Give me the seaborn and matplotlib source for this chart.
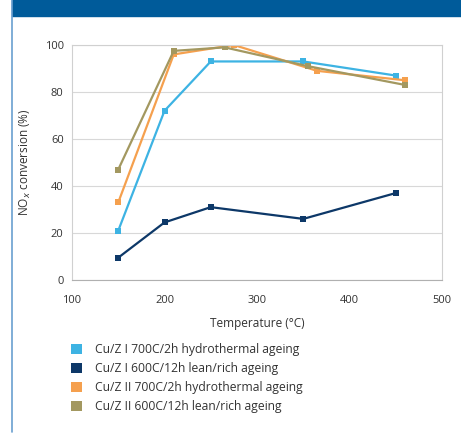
import pandas as pd
import seaborn as sns
import matplotlib.pyplot as plt
from matplotlib.patches import Patch, Rectangle
from matplotlib.lines import Line2D

# --- DATOS ---
series_names = [
    "Cu/Z I 700C/2h hydrothermal ageing",
    "Cu/Z I 600C/12h lean/rich ageing",
    "Cu/Z II 700C/2h hydrothermal ageing",
    "Cu/Z II 600C/12h lean/rich ageing",
]
temp_z1_hydro = [150, 200, 250, 350, 450]
conv_z1_hydro = [21, 72, 93, 93, 87]
temp_z1_lean = [150, 200, 250, 350, 450]
conv_z1_lean = [9.5, 24.5, 31, 26, 37]
temp_z2_hydro = [150, 210, 275, 365, 460]
conv_z2_hydro = [33, 96, 100, 89, 85]
temp_z2_lean = [150, 210, 265, 355, 460]
conv_z2_lean = [47, 97.5, 99, 91, 83]
colors = ["#3db3e3", "#0d3868", "#f5a04e", "#a39860"]
x_ticks = [100, 200, 300, 400, 500]
y_ticks = [0, 20, 40, 60, 80, 100]

rows = []
for name, xs, ys in zip(series_names,
                        [temp_z1_hydro, temp_z1_lean, temp_z2_hydro, temp_z2_lean],
                        [conv_z1_hydro, conv_z1_lean, conv_z2_hydro, conv_z2_lean]):
    for x, y in zip(xs, ys):
        rows.append({"series": name, "temp": x, "conv": y})
df = pd.DataFrame(rows)

sns.set_style("white")
plt.rcParams['font.family'] = ['Open Sans', 'DejaVu Sans']

fig = plt.figure(figsize=(4.61, 4.41), dpi=100)

# banda azul superior y borde izquierdo
fig.patches.append(Rectangle((12 / 461, 1 - 16 / 441), 1, 16 / 441,
                             transform=fig.transFigure, color="#005b9a", zorder=0))
fig.lines.append(Line2D([12 / 461, 12 / 461], [1 - 432 / 441, 1], transform=fig.transFigure,
                        color="#6a9fd0", lw=1.2))

ax = fig.add_axes([72 / 461, 1 - 280 / 441, 370 / 461, 235 / 441])
sns.lineplot(data=df, x="temp", y="conv", hue="series", palette=colors,
             marker="s", markersize=4.5, markeredgewidth=0, linewidth=1.6,
             sort=False, estimator=None, legend=False, ax=ax)

ax.set_xlim(100, 500)
ax.set_ylim(0, 100)
ax.set_xticks(x_ticks)
ax.set_yticks(y_ticks)
ax.yaxis.grid(True, color="#d8d8d8", lw=0.8)
for s in ax.spines.values():
    s.set_color("#d0d0d0")
    s.set_linewidth(0.8)
ax.spines["bottom"].set_color("#b0b0b0")
ax.tick_params(axis="both", labelsize=8, colors="#333333", length=0, pad=6)
ax.tick_params(axis="x", length=3, color="#b0b0b0", direction="out", pad=8)
ax.set_xlabel("Temperature (°C)", fontsize=8.5, color="#333333", labelpad=8)
ax.set_ylabel("NO$_x$ conversion (%)", fontsize=8.5, color="#333333", labelpad=8)

handles = [Patch(facecolor=c, edgecolor="none") for c in colors]
fig.legend(handles, series_names, loc="upper left",
           bbox_to_anchor=(60 / 461, 1 - 332 / 441), frameon=False,
           fontsize=8.7, handlelength=0.9, handleheight=0.9,
           labelspacing=0.5, handletextpad=1.1, labelcolor="#333333")

fig.savefig("out.png", dpi=100)
